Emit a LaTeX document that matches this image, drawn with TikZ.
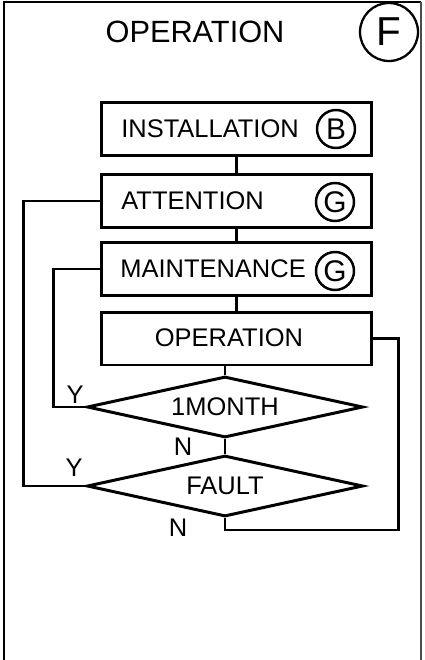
\documentclass[tikz,border=0pt]{standalone}
\usepackage{fontspec}
\setmainfont{Liberation Sans}
\usetikzlibrary{shapes.geometric,calc}

\begin{document}
\begin{tikzpicture}[
    x=0.02cm, y=-0.02cm,
    stepbox/.style={draw, line width=1.7pt, minimum width=5.42cm,
      minimum height=1.06cm, inner sep=0pt},
    decision/.style={draw, diamond, aspect=4.52, line width=1.7pt,
      minimum width=5.52cm, minimum height=1.22cm, inner sep=0pt,
      font=\fontsize{14.5}{16}\selectfont},
    boxtext/.style={anchor=west, inner sep=0pt, font=\fontsize{14.5}{16}\selectfont},
    ring/.style={draw, circle, line width=1.4pt, minimum size=0.76cm,
      inner sep=0pt, font=\fontsize{17}{19}\selectfont},
    answer/.style={inner sep=0pt, font=\fontsize{14.5}{16}\selectfont},
    link/.style={line width=1.3pt},
  ]
  \useasboundingbox (0,0) rectangle (424,660);
  \draw[line width=1.7pt] (4,660) -- (4,2) -- (421,2);
  \draw[line width=0.6pt, black!70] (421,2) -- (421,660);
  \node[font=\fontsize{17.5}{20}\selectfont] (title) at (195,32) {OPERATION};
  \node[draw, circle, line width=1.3pt, minimum size=1.16cm, inner sep=0pt,
    font=\fontsize{23}{26}\selectfont] (mark) at (389,32) {F};

  \node[stepbox] (install) at (236.5,129) {};
  \node[stepbox] (attend) at (236.5,201) {};
  \node[stepbox] (maint) at (236.5,269) {};
  \node[stepbox] (oper) at (236.5,338.5) {};
  \node[boxtext] (installtxt) at (121,129) {INSTALLATION};
  \node[boxtext] (attendtxt) at (121,201) {ATTENTION};
  \node[boxtext] (mainttxt) at (120,269) {MAINTENANCE};
  \node[font=\fontsize{14.5}{16}\selectfont] (opertxt) at (229,338) {OPERATION};
  \node[ring] (ringB) at (336,129) {B};
  \node[ring] (ringG1) at (335,202) {G};
  \node[ring] (ringG2) at (335,271) {G};

  \node[decision] (month) at (225,407) {1MONTH};
  \node[decision] (fault) at (225,486) {FAULT};
  \node[answer] (monthY) at (75,395) {Y};
  \node[answer] (monthN) at (183,447) {N};
  \node[answer] (faultY) at (74,468) {Y};
  \node[answer] (faultN) at (178,528) {N};

  \draw[link] (install) -- (attend);
  \draw[link] (attend) -- (maint);
  \draw[link] (maint) -- (oper);
  \draw[link] (month.north) -- (month.north |- oper.south);
  \draw[link] (month) -- (fault);
  \draw[link] (attend.west) -- ++(-76,0) |- (fault.west);
  \draw[link] (maint.west) -- ++(-46,0) |- (month.west);
  \draw[link] (fault.south) -- ++(0,12) -| ($(oper.east)+(25,0)$) -- (oper.east);
\end{tikzpicture}
\end{document}
